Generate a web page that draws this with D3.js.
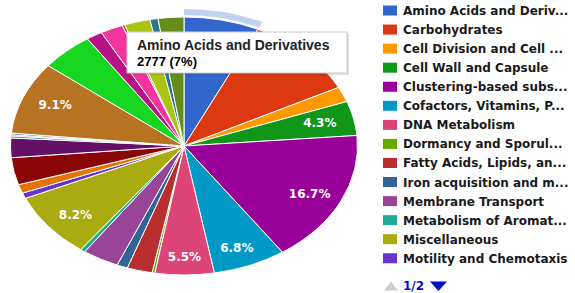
<!DOCTYPE html>
<html>
<head>
<meta charset="utf-8">
<script src="https://cdn.jsdelivr.net/npm/d3@7"></script>
<style>
  body { margin: 0; background: #fff; }
  svg { display: block; }
</style>
</head>
<body>
<div id="my_dataviz"></div>
<script>
  // subsystem categories, in pie / legend order
  var categories = [
    "Amino Acids and Derivatives", "Carbohydrates", "Cell Division and Cell Cycle",
    "Cell Wall and Capsule", "Clustering-based subsystems",
    "Cofactors, Vitamins, Prosthetic Groups, Pigments", "DNA Metabolism",
    "Dormancy and Sporulation", "Fatty Acids, Lipids, and Isoprenoids",
    "Iron acquisition and metabolism", "Membrane Transport",
    "Metabolism of Aromatic Compounds", "Miscellaneous", "Motility and Chemotaxis",
    "Nitrogen Metabolism", "Nucleosides and Nucleotides",
    "Phages, Prophages, Transposable elements, Plasmids", "Phosphorus Metabolism",
    "Photosynthesis", "Potassium metabolism", "Protein Metabolism", "RNA Metabolism",
    "Regulation and Cell signaling", "Respiration", "Secondary Metabolism",
    "Stress Response", "Sulfur Metabolism", "Virulence, Disease and Defense"
  ];
  // feature counts per category
  var counts = [2777, 4165, 754, 1706, 6625, 2698, 2182, 99, 932, 397, 1349, 179,
                3253, 278, 436, 1349, 972, 99, 60, 79, 3610, 1944, 595, 833, 99,
                952, 298, 952];
  var colors = ["#3366cc", "#dc3912", "#ff9900", "#109618", "#990099", "#0099c6",
                "#dd4477", "#66aa00", "#b82e2e", "#316395", "#994499", "#22aa99",
                "#aaaa11", "#6633cc", "#e67300", "#8b0707", "#651067", "#329262",
                "#5574a6", "#3b3eac", "#b77322", "#16d620", "#b91383", "#f4359e",
                "#9c5935", "#a9c413", "#2a778d", "#668d1c"];
  // slices that show a percentage label (the hovered one is under the tooltip)
  var labelled = ["Carbohydrates", "Cell Wall and Capsule",
                  "Clustering-based subsystems", "Cofactors, Vitamins, Prosthetic Groups, Pigments",
                  "DNA Metabolism", "Miscellaneous", "Protein Metabolism"];
  var hovered = "Amino Acids and Derivatives";
  var legendPageSize = 14;

  var data = categories.map(function(c, i) { return {name: c, count: counts[i], color: colors[i]}; });
  var total = d3.sum(counts);
  var pct = d3.format(".1%");

  var width = 575, height = 293,
      cx = 184, cy = 146,
      radius = 129,
      stretch = 1.345; // the pie is drawn as a wide ellipse

  var svg = d3.select("#my_dataviz")
    .append("svg")
      .attr("width", width)
      .attr("height", height)
      .style("font-family", "'DejaVu Sans', sans-serif");

  var pie = d3.pie().sort(null).value(function(d) { return d.count; });
  var arcs = pie(data);
  var arc = d3.arc().innerRadius(0).outerRadius(radius);
  var labelArc = d3.arc().innerRadius(107).outerRadius(107);

  var g = svg.append("g")
      .attr("transform", "translate(" + cx + "," + cy + ") scale(" + stretch + ",1)");

  // hover ring round the highlighted slice
  g.selectAll("path.ring")
    .data(arcs.filter(function(d) { return d.data.name == hovered; }))
    .enter()
    .append("path")
      .attr("class", "ring")
      .attr("fill", function(d) { return d.data.color; })
      .attr("fill-opacity", 0.3)
      .attr("d", d3.arc().innerRadius(radius + 2).outerRadius(radius + 8));

  g.selectAll("path.slice")
    .data(arcs)
    .enter()
    .append("path")
      .attr("class", "slice")
      .attr("fill", function(d) { return d.data.color; })
      .attr("stroke", "#fff")
      .attr("stroke-width", 1)
      .attr("vector-effect", "non-scaling-stroke")
      .attr("d", arc);

  // percentage labels
  svg.append("g")
    .selectAll("text")
    .data(arcs.filter(function(d) { return labelled.indexOf(d.data.name) >= 0; }))
    .enter()
    .append("text")
      .attr("x", function(d) { return cx + 1.3 * labelArc.centroid(d)[0]; })
      .attr("y", function(d) { return cy + 1.03 * labelArc.centroid(d)[1]; })
      .attr("dy", "0.36em")
      .attr("text-anchor", "middle")
      .attr("fill", "#fff")
      .attr("font-weight", "bold")
      .attr("font-size", 12)
      .text(function(d) { return pct(d.data.count / total); });

  // tooltip for the hovered slice
  var hov = data.filter(function(d) { return d.name == hovered; })[0];
  var tip = svg.append("g").attr("transform", "translate(127,32)");
  tip.append("rect")
      .attr("x", 2).attr("y", 2).attr("width", 220).attr("height", 41)
      .attr("fill", "#000").attr("fill-opacity", 0.12);
  tip.append("rect")
      .attr("width", 220).attr("height", 41)
      .attr("fill", "#fff").attr("stroke", "#ccc");
  tip.append("text")
      .attr("x", 10).attr("y", 18)
      .style("font-family", "'Liberation Sans', Arial, sans-serif")
      .attr("font-size", 14).attr("font-weight", "bold").attr("fill", "#222")
      .text(hov.name);
  tip.append("text")
      .attr("x", 10).attr("y", 33.5)
      .style("font-family", "'Liberation Sans', Arial, sans-serif")
      .attr("font-size", 13).attr("font-weight", "bold").attr("fill", "#000")
      .text(hov.count + " (" + d3.format(".0%")(hov.count / total) + ")");

  // legend, first page only
  var legendX = 383, legendY = 10.5, rowH = 19.06, maxW = 166;
  var rows = svg.append("g")
    .selectAll("g")
    .data(data.slice(0, legendPageSize))
    .enter()
    .append("g")
      .attr("transform", function(d, i) { return "translate(" + legendX + "," + (legendY + i * rowH) + ")"; });
  rows.append("rect")
      .attr("x", 0).attr("y", -5).attr("width", 14).attr("height", 10)
      .attr("fill", function(d) { return d.color; });
  rows.append("text")
      .attr("x", 20).attr("y", 4.5)
      .attr("font-size", 12).attr("font-weight", "bold").attr("fill", "#1a1a1a")
      .text(function(d) { return d.name; })
      .each(function(d) {
        var t = d3.select(this), s = d.name;
        if (this.getComputedTextLength() <= maxW) return;
        while (s.length > 1) {
          s = s.slice(0, -1);
          t.text(s + "...");
          if (this.getComputedTextLength() <= maxW) break;
        }
      });

  // pager
  var pager = svg.append("g").attr("transform", "translate(" + legendX + ",286)");
  pager.append("path").attr("d", "M1,4.5 L15,4.5 L8,-4.5 Z").attr("fill", "#ccc");
  pager.append("text")
      .attr("x", 20).attr("y", 4)
      .attr("font-size", 12).attr("font-weight", "bold").attr("fill", "#0011cc")
      .text("1/" + Math.ceil(data.length / legendPageSize));
  pager.append("path").attr("d", "M47,-4.5 L64,-4.5 L55.5,5 Z").attr("fill", "#0011cc");
</script>
</body>
</html>
